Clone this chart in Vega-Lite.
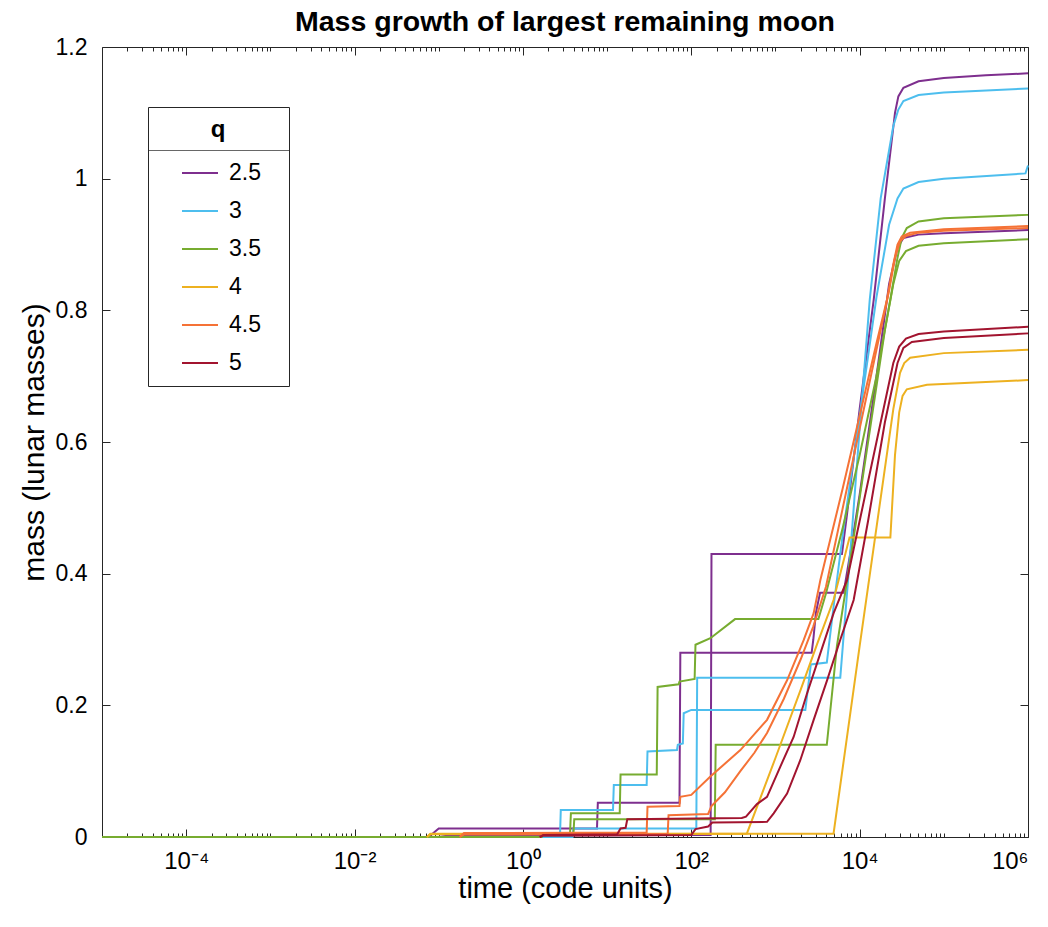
{
  "$schema": "https://vega.github.io/schema/vega-lite/v6.json",
  "autosize": {"type": "none"},
  "width": 926,
  "height": 790,
  "padding": {"left": 102, "top": 47, "right": 20, "bottom": 90},
  "background": "white",
  "config": {
    "font": "Liberation Sans",
    "view": {"stroke": "#262626", "strokeWidth": 1},
    "axis": {"grid": false, "domain": false, "tickColor": "#262626", "labelColor": "#262626", "titleColor": "#262626", "tickWidth": 1}
  },
  "title": {"text": "Mass growth of largest remaining moon", "fontSize": 28.5, "fontWeight": "bold", "color": "#000000", "offset": 0, "anchor": "middle"},
  "data": {"values": [
    {"q":"2.5","run":"a","t":1e-5,"m":0},{"q":"2.5","run":"a","t":0.0759,"m":0},{"q":"2.5","run":"a","t":0.1,"m":0.013},{"q":"2.5","run":"a","t":7.586,"m":0.013},{"q":"2.5","run":"a","t":7.762,"m":0.052},{"q":"2.5","run":"a","t":72.44,"m":0.052},{"q":"2.5","run":"a","t":74.13,"m":0.28},{"q":"2.5","run":"a","t":2692,"m":0.28},{"q":"2.5","run":"a","t":2818,"m":0.3},{"q":"2.5","run":"a","t":3020,"m":0.34},{"q":"2.5","run":"a","t":3388,"m":0.371},{"q":"2.5","run":"a","t":6457,"m":0.371},{"q":"2.5","run":"a","t":7943,"m":0.44},{"q":"2.5","run":"a","t":10000,"m":0.52},{"q":"2.5","run":"a","t":15850,"m":0.7},{"q":"2.5","run":"a","t":22390,"m":0.84},{"q":"2.5","run":"a","t":28180,"m":0.895},{"q":"2.5","run":"a","t":33110,"m":0.91},{"q":"2.5","run":"a","t":50120,"m":0.915},{"q":"2.5","run":"a","t":100000,"m":0.917},{"q":"2.5","run":"a","t":1000000,"m":0.922},
    {"q":"2.5","run":"b","t":1e-5,"m":0},{"q":"2.5","run":"b","t":0.1,"m":0},{"q":"2.5","run":"b","t":0.1259,"m":0.002},{"q":"2.5","run":"b","t":169.8,"m":0.003},{"q":"2.5","run":"b","t":173.8,"m":0.43},{"q":"2.5","run":"b","t":6166,"m":0.43},{"q":"2.5","run":"b","t":7079,"m":0.49},{"q":"2.5","run":"b","t":10000,"m":0.65},{"q":"2.5","run":"b","t":14690,"m":0.816},{"q":"2.5","run":"b","t":19950,"m":0.97},{"q":"2.5","run":"b","t":26300,"m":1.1},{"q":"2.5","run":"b","t":28840,"m":1.125},{"q":"2.5","run":"b","t":33110,"m":1.138},{"q":"2.5","run":"b","t":50120,"m":1.148},{"q":"2.5","run":"b","t":100000,"m":1.153},{"q":"2.5","run":"b","t":316200,"m":1.157},{"q":"2.5","run":"b","t":1000000,"m":1.16},
    {"q":"3","run":"a","t":1e-5,"m":0},{"q":"3","run":"a","t":2.754,"m":0},{"q":"3","run":"a","t":2.818,"m":0.041},{"q":"3","run":"a","t":11.75,"m":0.041},{"q":"3","run":"a","t":12.02,"m":0.079},{"q":"3","run":"a","t":29.51,"m":0.079},{"q":"3","run":"a","t":30.2,"m":0.13},{"q":"3","run":"a","t":67.61,"m":0.132},{"q":"3","run":"a","t":69.18,"m":0.14},{"q":"3","run":"a","t":79.43,"m":0.142},{"q":"3","run":"a","t":81.28,"m":0.188},{"q":"3","run":"a","t":100,"m":0.193},{"q":"3","run":"a","t":2265,"m":0.193},{"q":"3","run":"a","t":2630,"m":0.262},{"q":"3","run":"a","t":4074,"m":0.265},{"q":"3","run":"a","t":5012,"m":0.36},{"q":"3","run":"a","t":6310,"m":0.46},{"q":"3","run":"a","t":10000,"m":0.64},{"q":"3","run":"a","t":15850,"m":0.82},{"q":"3","run":"a","t":22390,"m":0.93},{"q":"3","run":"a","t":28180,"m":0.97},{"q":"3","run":"a","t":33110,"m":0.985},{"q":"3","run":"a","t":50120,"m":0.995},{"q":"3","run":"a","t":100000,"m":1.0},{"q":"3","run":"a","t":933300,"m":1.008},{"q":"3","run":"a","t":1000000,"m":1.02},
    {"q":"3","run":"b","t":1e-5,"m":0},{"q":"3","run":"b","t":3.89,"m":0},{"q":"3","run":"b","t":3.981,"m":0.013},{"q":"3","run":"b","t":114.8,"m":0.013},{"q":"3","run":"b","t":117.5,"m":0.242},{"q":"3","run":"b","t":5888,"m":0.242},{"q":"3","run":"b","t":6310,"m":0.29},{"q":"3","run":"b","t":7943,"m":0.45},{"q":"3","run":"b","t":10000,"m":0.62},{"q":"3","run":"b","t":13180,"m":0.816},{"q":"3","run":"b","t":17780,"m":0.97},{"q":"3","run":"b","t":25120,"m":1.08},{"q":"3","run":"b","t":28840,"m":1.105},{"q":"3","run":"b","t":33110,"m":1.118},{"q":"3","run":"b","t":50120,"m":1.127},{"q":"3","run":"b","t":100000,"m":1.131},{"q":"3","run":"b","t":1000000,"m":1.137},
    {"q":"3.5","run":"a","t":1e-5,"m":0},{"q":"3.5","run":"a","t":1.66,"m":0},{"q":"3.5","run":"a","t":1.698,"m":0.006},{"q":"3.5","run":"a","t":3.631,"m":0.006},{"q":"3.5","run":"a","t":3.715,"m":0.036},{"q":"3.5","run":"a","t":14.13,"m":0.036},{"q":"3.5","run":"a","t":14.45,"m":0.095},{"q":"3.5","run":"a","t":38.9,"m":0.095},{"q":"3.5","run":"a","t":39.81,"m":0.228},{"q":"3.5","run":"a","t":70.79,"m":0.232},{"q":"3.5","run":"a","t":72.44,"m":0.236},{"q":"3.5","run":"a","t":109.6,"m":0.24},{"q":"3.5","run":"a","t":112.2,"m":0.292},{"q":"3.5","run":"a","t":168.7,"m":0.302},{"q":"3.5","run":"a","t":331.1,"m":0.331},{"q":"3.5","run":"a","t":3236,"m":0.331},{"q":"3.5","run":"a","t":3981,"m":0.37},{"q":"3.5","run":"a","t":6310,"m":0.47},{"q":"3.5","run":"a","t":10000,"m":0.58},{"q":"3.5","run":"a","t":15850,"m":0.7},{"q":"3.5","run":"a","t":23120,"m":0.816},{"q":"3.5","run":"a","t":28180,"m":0.88},{"q":"3.5","run":"a","t":31620,"m":0.91},{"q":"3.5","run":"a","t":36310,"m":0.925},{"q":"3.5","run":"a","t":50120,"m":0.935},{"q":"3.5","run":"a","t":100000,"m":0.94},{"q":"3.5","run":"a","t":1000000,"m":0.945},
    {"q":"3.5","run":"b","t":1e-5,"m":0},{"q":"3.5","run":"b","t":1.66,"m":0},{"q":"3.5","run":"b","t":1.698,"m":0.005},{"q":"3.5","run":"b","t":3.981,"m":0.005},{"q":"3.5","run":"b","t":4.074,"m":0.027},{"q":"3.5","run":"b","t":190.5,"m":0.027},{"q":"3.5","run":"b","t":195,"m":0.14},{"q":"3.5","run":"b","t":4074,"m":0.14},{"q":"3.5","run":"b","t":5370,"m":0.29},{"q":"3.5","run":"b","t":7943,"m":0.43},{"q":"3.5","run":"b","t":12590,"m":0.6},{"q":"3.5","run":"b","t":19950,"m":0.77},{"q":"3.5","run":"b","t":25120,"m":0.84},{"q":"3.5","run":"b","t":29510,"m":0.875},{"q":"3.5","run":"b","t":35480,"m":0.89},{"q":"3.5","run":"b","t":50120,"m":0.898},{"q":"3.5","run":"b","t":100000,"m":0.902},{"q":"3.5","run":"b","t":1000000,"m":0.908},
    {"q":"4","run":"a","t":0.07244,"m":0},{"q":"4","run":"a","t":0.07943,"m":0.004},{"q":"4","run":"a","t":4898,"m":0.005},{"q":"4","run":"a","t":10000,"m":0.29},{"q":"4","run":"a","t":15850,"m":0.47},{"q":"4","run":"a","t":25120,"m":0.65},{"q":"4","run":"a","t":30200,"m":0.705},{"q":"4","run":"a","t":33880,"m":0.72},{"q":"4","run":"a","t":39810,"m":0.728},{"q":"4","run":"a","t":100000,"m":0.735},{"q":"4","run":"a","t":1000000,"m":0.74},
    {"q":"4","run":"b","t":0.07244,"m":0},{"q":"4","run":"b","t":0.07943,"m":0.005},{"q":"4","run":"b","t":457.1,"m":0.005},{"q":"4","run":"b","t":1000,"m":0.12},{"q":"4","run":"b","t":1995,"m":0.224},{"q":"4","run":"b","t":3162,"m":0.295},{"q":"4","run":"b","t":4898,"m":0.36},{"q":"4","run":"b","t":7586,"m":0.455},{"q":"4","run":"b","t":23170,"m":0.455},{"q":"4","run":"b","t":26300,"m":0.58},{"q":"4","run":"b","t":29510,"m":0.645},{"q":"4","run":"b","t":32360,"m":0.67},{"q":"4","run":"b","t":36310,"m":0.68},{"q":"4","run":"b","t":63100,"m":0.687},{"q":"4","run":"b","t":316200,"m":0.691},{"q":"4","run":"b","t":1000000,"m":0.694},
    {"q":"4.5","run":"a","t":0.1778,"m":0},{"q":"4.5","run":"a","t":0.1995,"m":0.006},{"q":"4.5","run":"a","t":29.51,"m":0.007},{"q":"4.5","run":"a","t":30.2,"m":0.046},{"q":"4.5","run":"a","t":72.44,"m":0.047},{"q":"4.5","run":"a","t":74.13,"m":0.061},{"q":"4.5","run":"a","t":100,"m":0.064},{"q":"4.5","run":"a","t":168.7,"m":0.092},{"q":"4.5","run":"a","t":382.8,"m":0.132},{"q":"4.5","run":"a","t":794.3,"m":0.178},{"q":"4.5","run":"a","t":1374,"m":0.238},{"q":"4.5","run":"a","t":2163,"m":0.299},{"q":"4.5","run":"a","t":2844,"m":0.34},{"q":"4.5","run":"a","t":3412,"m":0.39},{"q":"4.5","run":"a","t":6310,"m":0.53},{"q":"4.5","run":"a","t":10000,"m":0.64},{"q":"4.5","run":"a","t":15850,"m":0.75},{"q":"4.5","run":"a","t":21130,"m":0.816},{"q":"4.5","run":"a","t":25120,"m":0.87},{"q":"4.5","run":"a","t":28180,"m":0.9},{"q":"4.5","run":"a","t":31620,"m":0.912},{"q":"4.5","run":"a","t":39810,"m":0.918},{"q":"4.5","run":"a","t":100000,"m":0.923},{"q":"4.5","run":"a","t":1000000,"m":0.928},
    {"q":"4.5","run":"b","t":0.1778,"m":0},{"q":"4.5","run":"b","t":0.1995,"m":0.004},{"q":"4.5","run":"b","t":52.48,"m":0.005},{"q":"4.5","run":"b","t":53.7,"m":0.033},{"q":"4.5","run":"b","t":158.5,"m":0.035},{"q":"4.5","run":"b","t":173.8,"m":0.047},{"q":"4.5","run":"b","t":251.2,"m":0.068},{"q":"4.5","run":"b","t":382.8,"m":0.1},{"q":"4.5","run":"b","t":562.3,"m":0.128},{"q":"4.5","run":"b","t":794.3,"m":0.158},{"q":"4.5","run":"b","t":1259,"m":0.21},{"q":"4.5","run":"b","t":1995,"m":0.27},{"q":"4.5","run":"b","t":2818,"m":0.32},{"q":"4.5","run":"b","t":3981,"m":0.38},{"q":"4.5","run":"b","t":6310,"m":0.5},{"q":"4.5","run":"b","t":10000,"m":0.62},{"q":"4.5","run":"b","t":15850,"m":0.74},{"q":"4.5","run":"b","t":22390,"m":0.83},{"q":"4.5","run":"b","t":26300,"m":0.88},{"q":"4.5","run":"b","t":30200,"m":0.905},{"q":"4.5","run":"b","t":35480,"m":0.913},{"q":"4.5","run":"b","t":50120,"m":0.918},{"q":"4.5","run":"b","t":100000,"m":0.921},{"q":"4.5","run":"b","t":1000000,"m":0.925},
    {"q":"5","run":"a","t":1.585,"m":0},{"q":"5","run":"a","t":1.738,"m":0.003},{"q":"5","run":"a","t":13.18,"m":0.004},{"q":"5","run":"a","t":14.45,"m":0.013},{"q":"5","run":"a","t":16.6,"m":0.014},{"q":"5","run":"a","t":17.38,"m":0.027},{"q":"5","run":"a","t":398.1,"m":0.029},{"q":"5","run":"a","t":446.7,"m":0.031},{"q":"5","run":"a","t":602.6,"m":0.05},{"q":"5","run":"a","t":794.3,"m":0.061},{"q":"5","run":"a","t":1143,"m":0.107},{"q":"5","run":"a","t":1644,"m":0.152},{"q":"5","run":"a","t":2371,"m":0.218},{"q":"5","run":"a","t":3412,"m":0.279},{"q":"5","run":"a","t":4909,"m":0.34},{"q":"5","run":"a","t":7079,"m":0.39},{"q":"5","run":"a","t":10000,"m":0.48},{"q":"5","run":"a","t":15850,"m":0.6},{"q":"5","run":"a","t":25120,"m":0.72},{"q":"5","run":"a","t":29510,"m":0.745},{"q":"5","run":"a","t":35480,"m":0.757},{"q":"5","run":"a","t":50120,"m":0.764},{"q":"5","run":"a","t":100000,"m":0.768},{"q":"5","run":"a","t":1000000,"m":0.775},
    {"q":"5","run":"b","t":1.585,"m":0},{"q":"5","run":"b","t":1.738,"m":0.002},{"q":"5","run":"b","t":100,"m":0.003},{"q":"5","run":"b","t":112.2,"m":0.012},{"q":"5","run":"b","t":158.5,"m":0.016},{"q":"5","run":"b","t":177.8,"m":0.022},{"q":"5","run":"b","t":794.3,"m":0.023},{"q":"5","run":"b","t":952.8,"m":0.036},{"q":"5","run":"b","t":1374,"m":0.066},{"q":"5","run":"b","t":1977,"m":0.117},{"q":"5","run":"b","t":2844,"m":0.178},{"q":"5","run":"b","t":4102,"m":0.238},{"q":"5","run":"b","t":5902,"m":0.3},{"q":"5","run":"b","t":8492,"m":0.36},{"q":"5","run":"b","t":12590,"m":0.48},{"q":"5","run":"b","t":19950,"m":0.63},{"q":"5","run":"b","t":28180,"m":0.72},{"q":"5","run":"b","t":33110,"m":0.743},{"q":"5","run":"b","t":41690,"m":0.752},{"q":"5","run":"b","t":100000,"m":0.758},{"q":"5","run":"b","t":1000000,"m":0.765}
  ]},
  "layer": [
    {
      "mark": {"type": "point", "size": 0, "strokeWidth": 0},
      "encoding": {
        "x": {"field": "t", "type": "quantitative", "scale": {"type": "log", "domain": [1e-5, 1000000], "nice": false},
          "axis": {"orient": "bottom", "labels": false, "title": null, "tickSize": -4, "domain": false,
            "values": [2e-5,3e-5,4e-5,5e-5,6e-5,7e-5,8e-5,9e-5,2e-4,3e-4,4e-4,5e-4,6e-4,7e-4,8e-4,9e-4,1e-3,2e-3,3e-3,4e-3,5e-3,6e-3,7e-3,8e-3,9e-3,2e-2,3e-2,4e-2,5e-2,6e-2,7e-2,8e-2,9e-2,0.1,0.2,0.3,0.4,0.5,0.6,0.7,0.8,0.9,2,3,4,5,6,7,8,9,10,20,30,40,50,60,70,80,90,200,300,400,500,600,700,800,900,1000,2000,3000,4000,5000,6000,7000,8000,9000,20000,30000,40000,50000,60000,70000,80000,90000,100000,200000,300000,400000,500000,600000,700000,800000,900000]}},
        "y": {"field": "m", "type": "quantitative", "scale": {"domain": [0, 1.2], "nice": false}, "axis": null}
      }
    },
    {
      "mark": {"type": "point", "size": 0, "strokeWidth": 0},
      "encoding": {
        "x": {"field": "t", "type": "quantitative", "scale": {"type": "log", "domain": [1e-5, 1000000], "nice": false},
          "axis": {"orient": "top", "labels": false, "title": null, "tickSize": -4, "domain": false,
            "values": [2e-5,3e-5,4e-5,5e-5,6e-5,7e-5,8e-5,9e-5,2e-4,3e-4,4e-4,5e-4,6e-4,7e-4,8e-4,9e-4,1e-3,2e-3,3e-3,4e-3,5e-3,6e-3,7e-3,8e-3,9e-3,2e-2,3e-2,4e-2,5e-2,6e-2,7e-2,8e-2,9e-2,0.1,0.2,0.3,0.4,0.5,0.6,0.7,0.8,0.9,2,3,4,5,6,7,8,9,10,20,30,40,50,60,70,80,90,200,300,400,500,600,700,800,900,1000,2000,3000,4000,5000,6000,7000,8000,9000,20000,30000,40000,50000,60000,70000,80000,90000,100000,200000,300000,400000,500000,600000,700000,800000,900000]}},
        "y": {"field": "m", "type": "quantitative", "scale": {"domain": [0, 1.2], "nice": false}, "axis": null}
      }
    },
    {
      "mark": {"type": "point", "size": 0, "strokeWidth": 0},
      "encoding": {
        "x": {"field": "t", "type": "quantitative", "scale": {"type": "log", "domain": [1e-5, 1000000], "nice": false},
          "axis": {"orient": "top", "labels": false, "title": null, "tickSize": -8, "domain": false, "values": [1e-4, 0.01, 1, 100, 10000, 1000000]}},
        "y": {"field": "m", "type": "quantitative", "scale": {"domain": [0, 1.2], "nice": false},
          "axis": {"orient": "right", "labels": false, "title": null, "tickSize": -8, "domain": false, "values": [0, 0.2, 0.4, 0.6, 0.8, 1, 1.2]}}
      }
    },
    {
      "mark": {"type": "line", "strokeWidth": 2},
      "encoding": {
        "x": {"field": "t", "type": "quantitative", "scale": {"type": "log", "domain": [1e-5, 1000000], "nice": false},
          "axis": {"orient": "bottom", "values": [1e-4, 0.01, 1, 100, 10000, 1000000], "tickSize": -8, "labelPadding": 20, "labelFontSize": 24, "labelColor": "#000000",
            "labelExpr": "datum.value < 0.001 ? '10⁻⁴' : datum.value < 0.1 ? '10⁻²' : datum.value < 10 ? '10⁰' : datum.value < 1000 ? '10²' : datum.value < 100000 ? '10⁴' : '10⁶'",
            "title": "time (code units)", "titleFontSize": 29, "titleFontWeight": "normal", "titleColor": "#000000", "titlePadding": 1}},
        "y": {"field": "m", "type": "quantitative", "scale": {"domain": [0, 1.2], "nice": false},
          "axis": {"orient": "left", "values": [0, 0.2, 0.4, 0.6, 0.8, 1, 1.2], "format": ".1~f", "tickSize": -8, "labelPadding": 23, "labelFontSize": 23, "labelColor": "#000000",
            "title": "mass (lunar masses)", "titleFontSize": 30, "titleFontWeight": "normal", "titleColor": "#000000", "titlePadding": 6}},
        "color": {"field": "q", "type": "nominal",
          "scale": {"domain": ["2.5", "3", "3.5", "4", "4.5", "5"], "range": ["#7E2F8E", "#4DBEEE", "#77AC30", "#EDB120", "#F57236", "#A2142F"]},
          "legend": {"orient": "none", "legendX": 46, "legendY": 60, "title": "q", "titleFontSize": 24, "titleFontWeight": "bold", "titleColor": "#000000", "titleAnchor": "middle", "titlePadding": 12,
            "padding": 11, "strokeColor": "#262626", "fillColor": "white", "symbolType": "stroke", "symbolSize": 1296, "symbolStrokeWidth": 2, "symbolOffset": 22, "labelOffset": 10,
            "labelFontSize": 23, "labelColor": "#000000", "rowPadding": 7, "labelExpr": "datum.label + '⠀'"}},
        "detail": {"field": "run"}
      }
    },
    {
      "mark": {"type": "point", "filled": true, "size": 0, "strokeWidth": 0},
      "encoding": {
        "x": {"field": "t", "type": "quantitative", "scale": {"type": "log", "domain": [1e-5, 1000000], "nice": false}, "axis": null},
        "y": {"field": "m", "type": "quantitative", "scale": {"domain": [0, 1.2], "nice": false}, "axis": null},
        "fill": {"field": "m", "type": "quantitative", "scale": {"range": ["#262626", "#262626"]},
          "legend": {"orient": "none", "legendX": 46, "legendY": 103, "title": null, "labelExpr": "''", "labelOpacity": 0, "labelFontSize": 1, "direction": "horizontal", "gradientLength": 142, "gradientThickness": 1, "gradientStrokeWidth": 0, "padding": 0}}
      }
    }
  ],
  "resolve": {"axis": {"x": "independent", "y": "independent"}}
}
